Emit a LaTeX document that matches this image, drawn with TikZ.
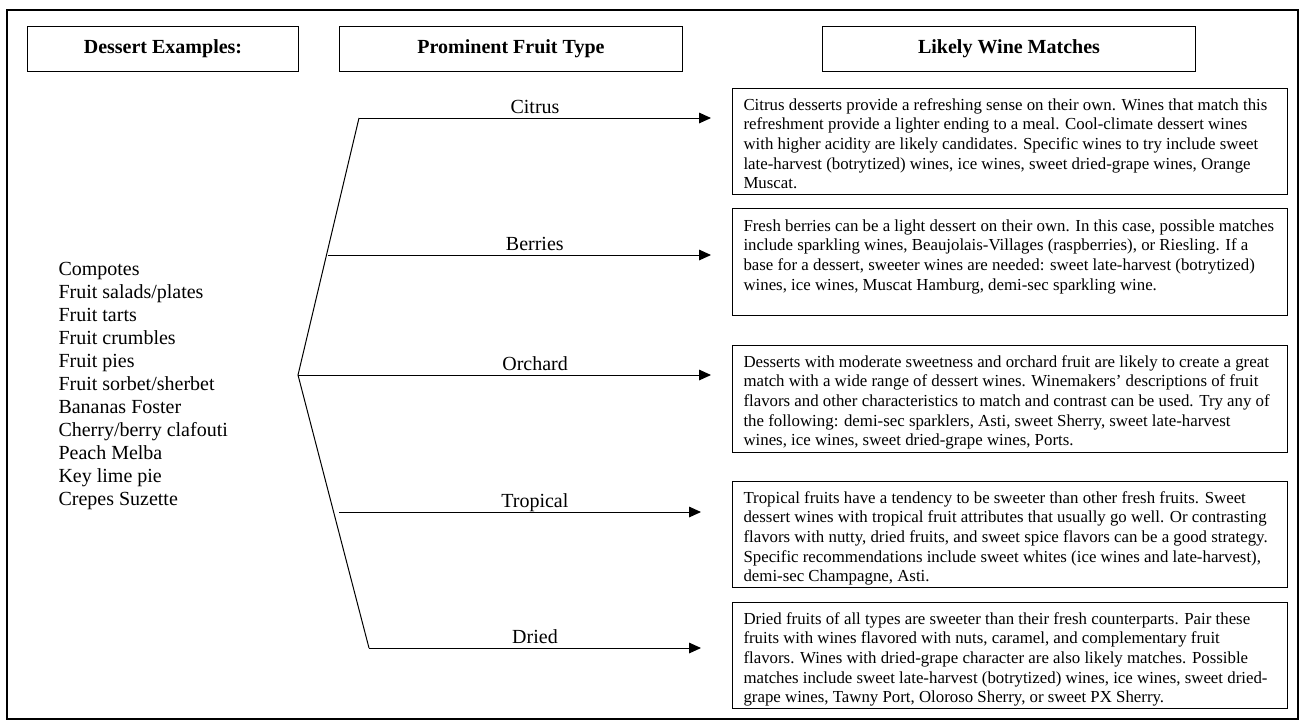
\documentclass[tikz,border=0pt]{standalone}
\usepackage{fontspec}
\setmainfont{Liberation Serif}
\usetikzlibrary{arrows.meta}

\begin{document}
\begin{tikzpicture}[
    x=0.6pt, y=-0.6pt,
    line width=0.6pt,
    hdr/.style={draw,anchor=north west,minimum width=#1,minimum height=27pt,inner sep=0pt,font=\fontsize{12}{13.8}\selectfont\bfseries},
    winebox/.style={draw,anchor=north west,minimum width=333pt,minimum height=#1,inner sep=0pt},
    winetext/.style={anchor=north west,inner sep=0pt,align=left,font=\fontsize{10.1}{11.76}\selectfont},
    dessertlist/.style={anchor=north west,inner sep=0pt,align=left,font=\fontsize{12}{13.8}\selectfont},
    fruitlbl/.style={anchor=base,yshift=3pt,inner sep=0pt,font=\fontsize{12}{13.8}\selectfont},
    arrow/.style={-{Triangle[length=7.2pt,width=6.4pt]},line width=0.6pt}
  ]
    \useasboundingbox (0,0) rectangle (1304,722);
    \draw[line width=0.8pt] (7,10) rectangle (1298,719);

    % column headers
    \node[hdr=162.6pt] (deshdr) at (27,26) {Dessert Examples:};
    \node[hdr=205.8pt] (fruithdr) at (339,26) {Prominent Fruit Type};
    \node[hdr=223.8pt] (winehdr) at (822,26) {Likely Wine Matches};

    % desserts
    \node[dessertlist] (desserts) at (58,259) {\strut Compotes\\Fruit salads/plates\\Fruit tarts\\Fruit crumbles\\Fruit pies\\Fruit sorbet/sherbet\\Bananas Foster\\Cherry/berry clafouti\\Peach Melba\\Key lime pie\\Crepes Suzette};

    % wine boxes
    \node[winebox=63.6pt] (citrusbox) at (732,88) {};
    \node[winebox=64.2pt] (berriesbox) at (732,208) {};
    \node[winebox=64.2pt] (orchardbox) at (732,345) {};
    \node[winebox=63.6pt] (tropicalbox) at (732,481) {};
    \node[winebox=63.6pt] (driedbox) at (732,602) {};

    \node[winetext] (citrustxt) at ([shift={(11,8)}]citrusbox.north west) {\strut Citrus desserts provide a refreshing sense on their own. Wines that match this\\refreshment provide a lighter ending to a meal. Cool-climate dessert wines\\with higher acidity are likely candidates. Specific wines to try include sweet\\late-harvest (botrytized) wines, ice wines, sweet dried-grape wines, Orange\\Muscat.};
    \node[winetext] (berriestxt) at ([shift={(11,9)}]berriesbox.north west) {\strut Fresh berries can be a light dessert on their own. In this case, possible matches\\include sparkling wines, Beaujolais-Villages (raspberries), or Riesling. If a\\base for a dessert, sweeter wines are needed: sweet late-harvest (botrytized)\\wines, ice wines, Muscat Hamburg, demi-sec sparkling wine.};
    \node[winetext] (orchardtxt) at ([shift={(11,8)}]orchardbox.north west) {\strut Desserts with moderate sweetness and orchard fruit are likely to create a great\\match with a wide range of dessert wines. Winemakers’ descriptions of fruit\\flavors and other characteristics to match and contrast can be used. Try any of\\the following: demi-sec sparklers, Asti, sweet Sherry, sweet late-harvest\\wines, ice wines, sweet dried-grape wines, Ports.};
    \node[winetext] (tropicaltxt) at ([shift={(11,8)}]tropicalbox.north west) {\strut Tropical fruits have a tendency to be sweeter than other fresh fruits. Sweet\\dessert wines with tropical fruit attributes that usually go well. Or contrasting\\flavors with nutty, dried fruits, and sweet spice flavors can be a good strategy.\\Specific recommendations include sweet whites (ice wines and late-harvest),\\demi-sec Champagne, Asti.};
    \node[winetext] (driedtxt) at ([shift={(11,8)}]driedbox.north west) {\strut Dried fruits of all types are sweeter than their fresh counterparts. Pair these\\fruits with wines flavored with nuts, caramel, and complementary fruit\\flavors. Wines with dried-grape character are also likely matches. Possible\\matches include sweet late-harvest (botrytized) wines, ice wines, sweet dried-\\grape wines, Tawny Port, Oloroso Sherry, or sweet PX Sherry.};

    % branch points
    \coordinate (fork) at (298,375);
    \coordinate (citrusstart) at (359,118);
    \coordinate (berriesstart) at (328,255);
    \coordinate (tropicalstart) at (339,512);
    \coordinate (driedstart) at (369,648);
    \coordinate (citrusend) at (711,118);
    \coordinate (berriesend) at (711,255);
    \coordinate (orchardend) at (711,375);
    \coordinate (tropicalend) at (701,512);
    \coordinate (driedend) at (701,648);

    \draw (citrusstart) -- (fork) -- (driedstart);
    \draw[arrow] (citrusstart) -- node[fruitlbl,pos=0.5] {Citrus} (citrusend);
    \draw[arrow] (berriesstart) -- node[fruitlbl,pos=0.54] {Berries} (berriesend);
    \draw[arrow] (fork) -- node[fruitlbl,pos=0.574] {Orchard} (orchardend);
    \draw[arrow] (tropicalstart) -- node[fruitlbl,pos=0.541] {Tropical} (tropicalend);
    \draw[arrow] (driedstart) -- node[fruitlbl,pos=0.5] {Dried} (driedend);
  \end{tikzpicture}
\end{document}
